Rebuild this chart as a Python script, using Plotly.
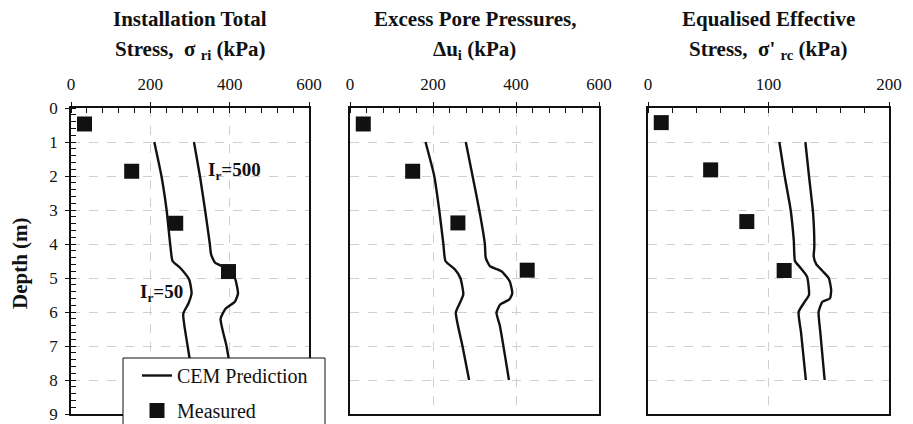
import plotly.graph_objects as go

W, H = 913, 424

# ---------------- data ----------------
# Panel 1: Installation total stress (kPa)
p1_ir50_depth = [1.0, 2.0, 3.0, 4.0, 4.5, 4.7, 5.05, 5.45, 5.75, 6.05, 7.0, 8.0]
p1_ir50_val = [210, 228, 241, 250, 256, 275, 298, 304, 296, 283, 294, 308]
p1_ir500_depth = [1.0, 2.0, 3.0, 4.0, 4.3, 4.55, 4.72, 5.0, 5.45, 5.7, 5.9, 6.2, 7.0, 8.0]
p1_ir500_val = [310, 325, 338, 350, 353, 363, 392, 413, 421, 413, 390, 377, 392, 407]
p1_meas_depth = [0.47, 1.86, 3.39, 4.81]
p1_meas_val = [34, 153, 264, 397]

# Panel 2: Excess pore pressures (kPa)
p2_lo_depth = [1.0, 2.0, 3.0, 4.0, 4.5, 4.75, 5.0, 5.48, 5.73, 6.02, 7.0, 8.0]
p2_lo_val = [182, 203, 215, 225, 230, 253, 266, 273, 265, 255, 271, 287]
p2_hi_depth = [1.0, 2.1, 3.1, 4.0, 4.4, 4.65, 4.8, 5.1, 5.45, 5.63, 5.78, 6.02, 6.4, 8.0]
p2_hi_val = [279, 297, 313, 325, 327, 337, 365, 385, 391, 384, 362, 353, 361, 383]
p2_meas_depth = [0.47, 1.86, 3.38, 4.77]
p2_meas_val = [32, 151, 260, 427]

# Panel 3: Equalised effective stress (kPa)
p3_lo_depth = [1.0, 2.0, 3.0, 3.9, 4.5, 4.72, 4.96, 5.5, 5.7, 6.0, 6.6, 8.0]
p3_lo_val = [109, 113.4, 118.4, 121, 122, 127, 132, 133.6, 130, 125, 127, 131]
p3_hi_depth = [1.0, 2.0, 3.1, 4.1, 4.37, 4.6, 4.8, 5.0, 5.35, 5.6, 5.7, 6.0, 6.6, 8.0]
p3_hi_val = [130.6, 133.6, 137, 138, 137.5, 139.7, 145, 150, 152, 151, 144.7, 141.6, 143, 146.6]
p3_meas_depth = [0.43, 1.82, 3.34, 4.78]
p3_meas_val = [11, 52, 82, 113]

x_ranges = [[0, 600], [0, 600], [0, 200]]
x_dticks = [200, 200, 100]
x_minor = [40, 40, 20]
title_line1 = ["Installation Total", "Excess Pore Pressures,", "Equalised Effective"]
title_line2 = ["Stress,  σ <sub>ri</sub> (kPa)", "Δu<sub>i</sub> (kPa)", "Stress,  σ' <sub>rc</sub> (kPa)"]
depth_ticks = list(range(0, 10))
legend_names = ["CEM Prediction", "Measured"]

# ---------------- layout geometry (pixels) ----------------
px_x = [(71, 309), (350, 599), (648, 889)]
px_top, px_bot = 108, 414
FONT = "Liberation Serif, Times New Roman, serif"
INK = "#111111"

fig = go.Figure()

panels = [
    (p1_ir50_depth, p1_ir50_val, p1_ir500_depth, p1_ir500_val, p1_meas_depth, p1_meas_val),
    (p2_lo_depth, p2_lo_val, p2_hi_depth, p2_hi_val, p2_meas_depth, p2_meas_val),
    (p3_lo_depth, p3_lo_val, p3_hi_depth, p3_hi_val, p3_meas_depth, p3_meas_val),
]

for i, (d1, v1, d2, v2, dm, vm) in enumerate(panels):
    xa = "x" if i == 0 else f"x{i+1}"
    ya = "y" if i == 0 else f"y{i+1}"
    for j, (d, v) in enumerate([(d1, v1), (d2, v2)]):
        fig.add_trace(go.Scatter(
            x=v, y=d, xaxis=xa, yaxis=ya, mode="lines",
            line=dict(color=INK, width=2.4, shape="spline", smoothing=0.5),
            name=legend_names[0], legendgroup="cem",
            showlegend=(i == 0 and j == 0)))
    fig.add_trace(go.Scatter(
        x=vm, y=dm, xaxis=xa, yaxis=ya, mode="markers",
        marker=dict(symbol="square", size=15, color=INK),
        name=legend_names[1], legendgroup="meas",
        showlegend=(i == 0)))

layout = dict(
    width=W, height=H,
    margin=dict(l=0, r=0, t=0, b=0, autoexpand=False),
    paper_bgcolor="white", plot_bgcolor="white",
    font=dict(family=FONT, size=17, color=INK),
    showlegend=True,
    legend=dict(x=137 / W, y=1 - 356 / H, xanchor="left", yanchor="top",
                bgcolor="rgba(0,0,0,0)", borderwidth=0,
                font=dict(family=FONT, size=20, color=INK),
                tracegroupgap=6, itemwidth=30),
)

annotations = []
for i in range(3):
    sfx = "" if i == 0 else str(i + 1)
    x0, x1 = px_x[i]
    layout["xaxis" + sfx] = dict(
        domain=[x0 / W, x1 / W], range=x_ranges[i], side="top",
        anchor="y" + sfx, dtick=x_dticks[i], tick0=0,
        ticks="outside", ticklen=4, tickwidth=1.2, tickcolor=INK,
        minor=dict(dtick=x_minor[i], tick0=0, ticks="inside", ticklen=5,
                   tickwidth=1.2, tickcolor=INK, showgrid=False),
        showline=True, linecolor=INK, linewidth=1.8, mirror=True,
        showgrid=True, gridcolor="#cfcfcf", griddash="dash", gridwidth=1,
        zeroline=False, tickfont=dict(size=17), ticklabelstandoff=5,
    )
    ydict = dict(
        domain=[1 - px_bot / H, 1 - px_top / H], range=[9, 0],
        anchor="x" + sfx, tickvals=depth_ticks,
        showline=True, linecolor=INK, linewidth=1.8, mirror=True,
        showgrid=True, gridcolor="#cfcfcf", griddash="dash", gridwidth=1,
        zeroline=False,
    )
    if i == 0:
        ydict.update(ticks="outside", ticklen=4, tickwidth=1.2, tickcolor=INK,
                     showticklabels=True, tickfont=dict(size=17),
                     ticklabelstandoff=4,
                     minor=dict(dtick=0.2, tick0=0, ticks="inside", ticklen=5,
                                tickwidth=1.2, tickcolor=INK, showgrid=False))
    else:
        ydict.update(ticks="", showticklabels=False)
    layout["yaxis" + sfx] = ydict

    cx = (x0 + x1) / 2 / W
    annotations.append(dict(text=f"<b>{title_line1[i]}</b>", x=cx, y=1 - 19 / H,
                            xref="paper", yref="paper", showarrow=False,
                            xanchor="center", yanchor="middle",
                            font=dict(size=21, family=FONT, color=INK)))
    annotations.append(dict(text=f"<b>{title_line2[i]}</b>", x=cx, y=1 - 50 / H,
                            xref="paper", yref="paper", showarrow=False,
                            xanchor="center", yanchor="middle",
                            font=dict(size=21, family=FONT, color=INK)))

annotations.append(dict(text="<b>Depth (m)</b>", x=20 / W, y=1 - 263 / H,
                        xref="paper", yref="paper", showarrow=False, textangle=-90,
                        xanchor="center", yanchor="middle",
                        font=dict(size=21, family=FONT, color=INK)))
annotations.append(dict(text="<b>I<sub>r</sub>=500</b>", x=411, y=1.85,
                        xref="x", yref="y", showarrow=False,
                        xanchor="center", yanchor="middle",
                        font=dict(size=19, family=FONT, color=INK)))
annotations.append(dict(text="<b>I<sub>r</sub>=50</b>", x=229, y=5.45,
                        xref="x", yref="y", showarrow=False,
                        xanchor="center", yanchor="middle",
                        font=dict(size=19, family=FONT, color=INK)))
layout["annotations"] = annotations

layout["shapes"] = [dict(type="rect", xref="paper", yref="paper",
                         x0=123 / W, x1=325 / W, y0=-0.05, y1=1 - 358 / H,
                         fillcolor="white", line=dict(color=INK, width=1),
                         layer="above")]

fig.update_layout(**layout)
fig.write_html("out.html",
               config={"displayModeBar": False},
               post_script="document.body.style.margin='0px';document.body.style.overflow='hidden';")
